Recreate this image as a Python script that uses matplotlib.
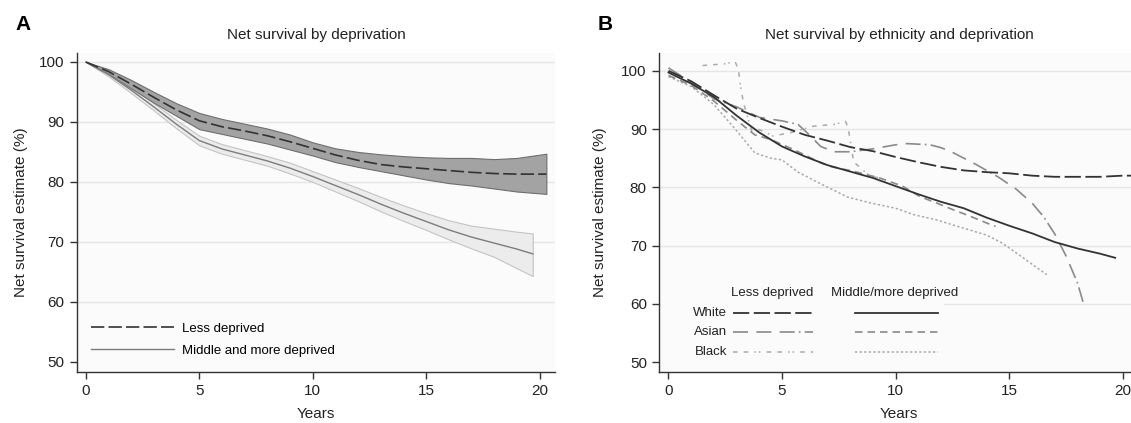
import matplotlib
matplotlib.use('Agg')
import matplotlib.pyplot as plt
from matplotlib.patches import Rectangle

plt.rcParams['font.family'] = ['Liberation Sans', 'DejaVu Sans']

# Panel A: net survival by deprivation
years_a = [0, 1, 2, 3, 4, 5, 6, 7, 8, 9, 10, 11, 12, 13, 14, 15, 16, 17, 18, 19, 20.3]
less_est = [100, 98.4, 96.3, 94.1, 92.0, 90.2, 89.2, 88.5, 87.7, 86.7, 85.6, 84.5, 83.6, 82.9, 82.5, 82.2, 81.9, 81.6, 81.4, 81.3, 81.3]
less_hi = [100, 98.8, 97.0, 95.0, 93.1, 91.5, 90.5, 89.7, 88.9, 87.9, 86.6, 85.6, 85.0, 84.6, 84.3, 84.1, 84.0, 84.0, 83.8, 84.0, 84.7]
less_lo = [100, 98.0, 95.6, 93.2, 91.0, 88.8, 88.0, 87.2, 86.4, 85.4, 84.4, 83.3, 82.5, 81.8, 81.1, 80.4, 79.8, 79.4, 78.9, 78.4, 78.0]

years_m = [0, 1, 2, 3, 4, 5, 6, 7, 8, 9, 10, 11, 12, 13, 14, 15, 16, 17, 18, 19, 19.7]
mid_est = [100, 97.9, 95.3, 92.5, 89.6, 86.9, 85.5, 84.5, 83.5, 82.3, 80.9, 79.4, 77.9, 76.3, 74.8, 73.4, 72.0, 70.8, 69.8, 68.8, 68.0]
mid_hi = [100, 98.2, 95.8, 93.1, 90.3, 87.7, 86.3, 85.3, 84.3, 83.2, 81.8, 80.4, 79.0, 77.5, 76.1, 74.8, 73.6, 72.7, 72.2, 71.7, 71.4]
mid_lo = [100, 97.6, 94.8, 91.9, 88.9, 86.1, 84.7, 83.7, 82.7, 81.4, 80.0, 78.4, 76.8, 75.1, 73.5, 72.0, 70.4, 68.9, 67.5, 65.6, 64.3]

# Panel B: net survival by ethnicity and deprivation
white_less_x = [0, 1, 2, 3, 4, 5, 6, 7, 8, 9, 10, 11, 12, 13, 14, 15, 16, 17, 18, 19, 20, 21]
white_less_y = [100, 98.2, 95.8, 93.5, 91.9, 90.4, 89.0, 88.0, 86.9, 86.2, 85.2, 84.3, 83.5, 82.9, 82.6, 82.4, 82.0, 81.8, 81.8, 81.8, 82.0, 82.0]
white_mid_x = [0, 1, 2, 3, 4, 5, 6, 7, 8, 9, 10, 11, 12, 13, 14, 15, 16, 17, 18, 19, 19.66]
white_mid_y = [99.7, 97.8, 95.5, 92.3, 89.4, 87.0, 85.3, 83.8, 82.7, 81.6, 80.2, 78.8, 77.5, 76.4, 74.8, 73.4, 72.1, 70.6, 69.5, 68.6, 67.9]
asian_less_x = [0, 1, 2, 3, 4, 5, 5.7, 6.2, 6.7, 7.3, 8, 9, 10, 10.5, 11.5, 12, 12.5, 13.5, 14.5, 15.3, 16, 16.5, 17, 17.5, 18, 18.3]
asian_less_y = [100.5, 98.0, 95.2, 93.8, 92.0, 91.4, 90.8, 89.0, 87.0, 86.1, 86.1, 86.6, 87.3, 87.5, 87.3, 86.8, 86.0, 84.0, 81.8, 79.7, 77.3, 75.0, 72.0, 68.2, 63.6, 59.6]
asian_mid_x = [0, 1, 2, 3, 3.8, 4.5, 5.5, 6.7, 7.2, 8.1, 9.3, 10.3, 11.07, 11.8, 12.5, 13.3, 14.3, 14.4]
asian_mid_y = [99.2, 97.5, 94.8, 91.5, 89.0, 88.2, 86.5, 84.2, 83.5, 82.8, 81.6, 80.2, 78.4, 77.3, 76.2, 75.0, 73.4, 73.3]
black_less_x = [1.5, 2.5, 2.93, 3.08, 3.15, 3.3, 3.67, 4.0, 4.6, 5.4, 6.4, 7.3, 7.8, 7.92, 8.07, 8.14, 8.87, 9.3]
black_less_y = [100.9, 101.2, 101.6, 100.2, 97.9, 94.5, 89.6, 89.9, 88.8, 89.4, 90.5, 90.8, 91.3, 89.9, 86.4, 84.4, 81.9, 81.6]
black_mid_x = [0, 1, 2, 3, 3.8, 4.5, 5, 5.7, 6.7, 7.9, 8.9, 10, 10.8, 11.8, 12.8, 14, 14.7, 15.5, 16.65]
black_mid_y = [99.0, 97.3, 94.2, 89.7, 85.9, 85.0, 84.7, 82.6, 80.6, 78.3, 77.3, 76.4, 75.3, 74.4, 73.2, 71.8, 70.4, 68.2, 65.0]

x_ticks = [0, 5, 10, 15, 20]
y_ticks = [50, 60, 70, 80, 90, 100]
grid_levels = [60, 70, 80, 90, 100]

dark = '#333333'
mid_gray = '#8a8a8a'
light_gray = '#aaaaaa'


def style_axes(ax, ylim, title):
    ax.set_facecolor('#fbfbfb')
    for lvl in grid_levels:
        ax.axhline(lvl, color='#e6e6e6', linewidth=1.0, zorder=0.5)
    ax.set_xlim(-0.4, 20.7)
    ax.set_ylim(*ylim)
    ax.set_xticks(x_ticks)
    ax.set_yticks(y_ticks)
    ax.spines['top'].set_visible(False)
    ax.spines['right'].set_visible(False)
    for s in ['left', 'bottom']:
        ax.spines[s].set_color(dark)
        ax.spines[s].set_linewidth(1.0)
    ax.tick_params(colors=dark, labelcolor='#222222', labelsize=11, length=5, width=1.0, pad=4)
    ax.set_xlabel('Years', fontsize=11, color='#222222', labelpad=6)
    ax.set_ylabel('Net survival estimate (%)', fontsize=11, color='#222222', labelpad=8)
    ax.set_title(title, fontsize=11, color='#222222', pad=10)


fig = plt.figure(figsize=(11.31, 4.23), dpi=100)

# ---- A
ax1 = fig.add_axes([0.0679, 0.1206, 0.4232, 0.7541])
style_axes(ax1, (48.3, 101.5), 'Net survival by deprivation')
ax1.fill_between(years_m, mid_lo, mid_hi, facecolor='#ececec', edgecolor='#c4c4c4', linewidth=0.8, zorder=2)
ax1.fill_between(years_a, less_lo, less_hi, facecolor='#a3a3a3', edgecolor='#6e6e6e', linewidth=0.8, zorder=2)
ax1.plot(years_m, mid_est, color='#7d7d7d', linewidth=1.0, zorder=3, label='Middle and more deprived')
ax1.plot(years_a, less_est, color=dark, linewidth=1.2, dashes=(8, 2.5), zorder=3, label='Less deprived')
handles, labels = ax1.get_legend_handles_labels()
ax1.legend(handles[::-1], labels[::-1], loc='lower left', bbox_to_anchor=(0.005, 0.01), frameon=False,
           fontsize=9.5, handlelength=6.3, handletextpad=0.6, labelspacing=0.75)

# ---- B
ax2 = fig.add_axes([0.583, 0.1206, 0.4239, 0.7534])
style_axes(ax2, (48.3, 103.0), 'Net survival by ethnicity and deprivation')
ax2.yaxis.labelpad = 10
ax2.add_patch(Rectangle((0.004, 0.01), 0.59, 0.275, transform=ax2.transAxes,
                        facecolor='#fbfbfb', edgecolor='none', zorder=0.8))

sty_white_less = dict(color=dark, linewidth=1.3, dashes=(9, 2.5))
sty_white_mid = dict(color=dark, linewidth=1.3)
sty_asian_less = dict(color=mid_gray, linewidth=1.2, dashes=(9, 5, 9, 5, 9, 2.5, 1, 2.5))
sty_asian_mid = dict(color=mid_gray, linewidth=1.2, dashes=(4.5, 3))
sty_black_less = dict(color=light_gray, linewidth=1.1, dashes=(3, 4, 3, 4, 1, 2, 1, 4))
sty_black_mid = dict(color=light_gray, linewidth=1.1, dashes=(1.5, 1.5))

ax2.plot(black_mid_x, black_mid_y, zorder=2, **sty_black_mid)
ax2.plot(black_less_x, black_less_y, zorder=2, **sty_black_less)
ax2.plot(asian_mid_x, asian_mid_y, zorder=2, **sty_asian_mid)
ax2.plot(asian_less_x, asian_less_y, zorder=2, **sty_asian_less)
ax2.plot(white_mid_x, white_mid_y, zorder=3, **sty_white_mid)
ax2.plot(white_less_x, white_less_y, zorder=3, **sty_white_less)

# legend table drawn in axes coordinates
tr = ax2.transAxes
ax2.text(0.235, 0.248, 'Less deprived', transform=tr, ha='center', va='center', fontsize=9.5, color='#222222')
ax2.text(0.491, 0.248, 'Middle/more deprived', transform=tr, ha='center', va='center', fontsize=9.5, color='#222222')
rows = [('White', 0.184, sty_white_less, sty_white_mid),
        ('Asian', 0.1265, sty_asian_less, sty_asian_mid),
        ('Black', 0.064, sty_black_less, sty_black_mid)]
for name, yy, s_less, s_mid in rows:
    ax2.text(0.141, yy, name, transform=tr, ha='right', va='center', fontsize=9.5, color='#222222')
    ax2.plot([0.1535, 0.32], [yy, yy], transform=tr, **s_less)
    ax2.plot([0.408, 0.581], [yy, yy], transform=tr, **s_mid)

fig.text(0.0141, 0.965, 'A', fontsize=15, fontweight='bold', va='top', ha='left')
fig.text(0.528, 0.965, 'B', fontsize=15, fontweight='bold', va='top', ha='left')

fig.savefig('out.png', dpi=100, facecolor='white')
